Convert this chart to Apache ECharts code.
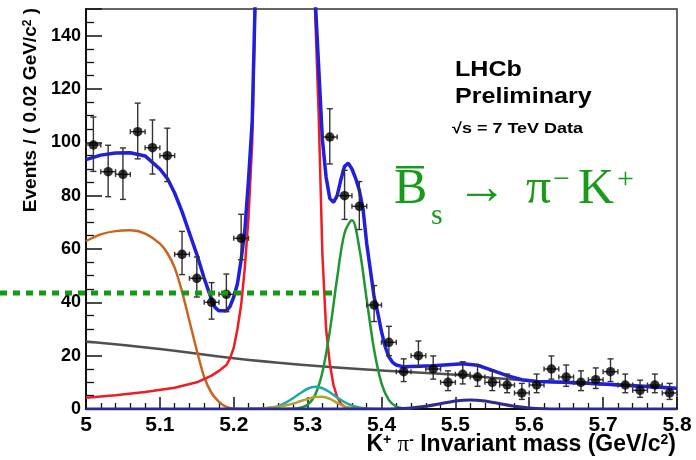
<!DOCTYPE html>
<html><head><meta charset="utf-8">
<script src="https://cdn.jsdelivr.net/npm/echarts@6/dist/echarts.min.js"></script>
<style>html,body{margin:0;padding:0;background:#fff}#c{width:696px;height:460px}</style>
</head><body><div id="c"></div>
<script>
// ---- data (bin centres, GeV/c^2) ----
const binMass = [5.01,5.03,5.05,5.07,5.09,5.11,5.13,5.15,5.17,5.19,5.21,5.23,5.25,5.27,5.29,5.31,5.33,5.35,5.37,5.39,5.41,5.43,5.45,5.47,5.49,5.51,5.53,5.55,5.57,5.59,5.61,5.63,5.65,5.67,5.69,5.71,5.73,5.75,5.77,5.79];
const binCounts = [99,89,88,104,98,95,58,49,40,43,64,null,null,null,null,null,102,80,76,39,25,14,20,15,10,13,12,10,9,6,9,15,12,10,11,14,9,7,9,6];
const errUp   = [10.5,9.9,9.9,10.7,10.4,10.3,8.6,8.0,7.4,7.6,9.0,null,null,null,null,null,10.6,9.5,9.3,7.3,6.0,4.8,5.5,4.9,4.3,4.7,4.5,4.3,4.1,3.6,4.1,4.9,4.5,4.3,4.4,4.8,4.1,3.8,4.1,3.6];
const errDown = [9.9,9.4,9.4,10.2,9.9,9.7,7.6,7.0,6.3,6.5,8.0,null,null,null,null,null,10.1,8.9,8.7,6.2,5.0,3.7,4.4,3.8,3.1,3.6,3.5,3.1,2.9,2.4,2.9,3.8,3.5,3.1,3.3,3.7,2.9,2.6,2.9,2.4];
const binHalfWidth = 0.01;

const totalMass = [5.00,5.02,5.04,5.06,5.08,5.10,5.11,5.12,5.13,5.14,5.15,5.16,5.17,5.175,5.18,5.19,5.195,5.20,5.205,5.21,5.215,5.22,5.225,5.23,5.24,5.26,5.28,5.30,5.31,5.315,5.32,5.325,5.33,5.335,5.34,5.345,5.35,5.355,5.36,5.365,5.37,5.375,5.38,5.385,5.39,5.395,5.40,5.405,5.41,5.415,5.42,5.43,5.45,5.47,5.49,5.51,5.53,5.55,5.57,5.59,5.61,5.65,5.70,5.75,5.80];
const totalFit  = [93.5,95.2,96.0,96.1,94.9,90.0,86.5,81,74,66,58,49,41,38,36.8,36.8,38.5,42,47,56,67,86,108,165,260,390,420,265,155,128,101,87,79,77.5,80,86,91,92.2,90,86.5,82,75,62,52,42,36,29,23.4,19.5,17.5,16.5,15.8,16.0,16.2,16.6,17.0,16.4,14.5,12.5,11.0,10.3,10.0,9.4,8.6,7.8];

const bdMass = [5.00,5.04,5.08,5.12,5.15,5.17,5.18,5.19,5.195,5.20,5.205,5.21,5.215,5.22,5.225,5.23,5.235,5.24,5.26,5.28,5.30,5.305,5.31,5.315,5.32,5.325,5.33,5.335,5.34,5.345,5.35,5.36,5.38];
const bdFit  = [4.2,5.2,6.4,8.0,10.0,12.5,14.3,16.5,19,23,30,39,53,72,100,165,210,250,380,400,245,195,150,110,58,30,17,9,4.5,2,0.8,0.2,0];

const bsMass = [5.26,5.28,5.29,5.30,5.31,5.32,5.33,5.34,5.35,5.36,5.37,5.38,5.39,5.40,5.41,5.42,5.43,5.44];
const bsFit  = [0,0.1,0.5,1.6,5.2,13.8,29.2,49.2,66,70.8,60.3,41,22.2,9.6,3.3,0.9,0.2,0];

const partMass = [5.00,5.02,5.04,5.06,5.08,5.10,5.11,5.12,5.13,5.14,5.15,5.16,5.17,5.18,5.19,5.20,5.21];
const partFit  = [63,65.5,66.7,67,65.8,62,58.5,53,44,33,22,12,6,2.7,0.8,0.1,0];

const combMass = [5.0,5.1,5.2,5.3,5.4,5.5,5.6,5.7,5.8];
const combFit  = [25.3,22.5,19.0,16.4,14.4,12.8,10.6,9.2,7.6];

const cyanMass = [5.22,5.24,5.25,5.26,5.27,5.28,5.29,5.30,5.31,5.32,5.33,5.34,5.35,5.36,5.37,5.38,5.40];
const cyanFit  = [0,0.17,0.5,1.1,2.3,4.0,5.9,7.6,8.3,7.8,6.3,4.3,2.6,1.3,0.6,0.2,0];

const oliveMass = [5.20,5.24,5.26,5.27,5.28,5.29,5.30,5.31,5.32,5.33,5.34,5.35,5.36,5.37,5.38];
const oliveFit  = [0,0.3,0.8,1.3,2.0,2.9,3.8,4.5,4.6,3.8,2.3,1.0,0.3,0.1,0];

const navyMass = [5.00,5.38,5.40,5.42,5.44,5.46,5.48,5.50,5.52,5.54,5.56,5.58,5.60,5.62,5.64,5.66,5.80];
const navyFit  = [0,0,0,0.1,0.4,1.0,2.0,3.0,3.4,3.0,2.0,1.0,0.4,0.1,0,0,0];

const refLineEnd = 5.34;
const refLineLevel = 43.5;

const xTicks = {min:5, max:5.8, step:0.1};
const yTicks = {min:0, max:150, step:20};

// ---- layout ----
const W = 696, gridLeft = 86, gridRight = 19, gridTop = 9, gridBottom = 51;
const plotW = W - gridLeft - gridRight;
// extended x-axis for the annotation line that starts at the page's left edge
const extMin = xTicks.min - gridLeft * (xTicks.max - xTicks.min) / plotW;

// ---- chart ----
const pair = (xs, ys) => xs.map((x, i) => [x, ys[i]]);
const curve = (name, xs, ys, color, width, smooth, z) => ({
  name, type:'line', data: pair(xs, ys), showSymbol:false, symbol:'none',
  smooth: smooth, lineStyle:{color, width}, z: z, animation:false, silent:true
});

const chart = echarts.init(document.getElementById('c'), null, {renderer:'canvas'});
const bold = 'Liberation Sans, Arial, sans-serif';

chart.setOption({
  animation:false,
  backgroundColor:'#fff',
  grid:[
    {left:gridLeft, right:gridRight, top:gridTop, bottom:gridBottom, show:true, borderColor:'#333', borderWidth:1.5, backgroundColor:'transparent'},
    {left:0, right:gridRight, top:gridTop, bottom:gridBottom, show:false}
  ],
  xAxis:[{
    type:'value', min:xTicks.min, max:xTicks.max, interval:xTicks.step,
    axisLine:{show:true, onZero:false, lineStyle:{color:'#111', width:2}},
    axisTick:{inside:true, length:12, lineStyle:{color:'#111', width:1.5}},
    minorTick:{show:true, splitNumber:5, length:6, lineStyle:{color:'#111', width:1.3}},
    splitLine:{show:false},
    axisLabel:{color:'#000', fontSize:21, fontWeight:'bold', fontFamily:bold, margin:6,
      formatter: v => String(parseFloat(v.toFixed(1))), showMaxLabel:true, showMinLabel:true}
  },{
    gridIndex:1, type:'value', min:extMin, max:xTicks.max, show:false
  }],
  yAxis:[{
    type:'value', min:yTicks.min, max:yTicks.max, interval:yTicks.step,
    axisLine:{show:true, lineStyle:{color:'#111', width:2}},
    axisTick:{inside:true, length:16, lineStyle:{color:'#111', width:1.5}},
    minorTick:{show:true, splitNumber:4, length:8, lineStyle:{color:'#111', width:1.3}},
    splitLine:{show:false},
    axisLabel:{color:'#000', fontSize:18, fontWeight:'bold', fontFamily:bold, margin:5, showMaxLabel:false}
  },{
    gridIndex:1, type:'value', min:yTicks.min, max:yTicks.max, show:false
  }],
  graphic:[
    {type:'text', x:31, y:8, rotation:Math.PI/2, z:10,
      style:{text:'Events / ( 0.02 GeV/c{s|2} )', align:'right', verticalAlign:'middle',
        font:'bold 19px '+bold, fill:'#000',
        rich:{s:{fontSize:12, fontWeight:'bold', fontFamily:bold, verticalAlign:'top', fill:'#000'}}}},
    {type:'text', x:676, y:445, z:10,
      style:{text:'K{s|+} {p|π}{s|-} Invariant mass (GeV/c{s|2})', align:'right', verticalAlign:'middle',
        font:'bold 23px '+bold, fill:'#000',
        rich:{s:{fontSize:14, fontWeight:'bold', fontFamily:bold, verticalAlign:'top', fill:'#000'},
              p:{fontSize:23, fontFamily:'Liberation Serif, serif', fontWeight:'normal', fill:'#000'}}}},
    {type:'text', x:455, y:70, scaleX:1.14, z:10, style:{text:'LHCb', font:'bold 22px '+bold, fill:'#000', verticalAlign:'middle'}},
    {type:'text', x:455, y:97, scaleX:1.14, z:10, style:{text:'Preliminary', font:'bold 22px '+bold, fill:'#000', verticalAlign:'middle'}},
    {type:'text', x:452, y:129, scaleX:1.2, z:10, style:{text:'\u221As = 7 TeV Data', font:'bold 15px '+bold, fill:'#000', verticalAlign:'middle'}},
    {type:'text', x:394, y:190, z:10, style:{text:'B', font:'50px Liberation Serif, serif', fill:'#1a9a1a', verticalAlign:'middle'}},
    {type:'rect', shape:{x:396, y:166, width:28, height:2.5}, style:{fill:'#1a9a1a'}, z:10},
    {type:'text', x:431, y:216, z:10, style:{text:'s', font:'30px Liberation Serif, serif', fill:'#1a9a1a', verticalAlign:'middle'}},
    {type:'text', x:457, y:190, z:10, style:{text:'\u2192', font:'50px Liberation Serif, serif', fill:'#1a9a1a', verticalAlign:'middle'}},
    {type:'text', x:526, y:190, z:10, style:{text:'\u03C0', font:'50px Liberation Serif, serif', fill:'#1a9a1a', verticalAlign:'middle'}},
    {type:'text', x:553, y:180, z:10, style:{text:'\u2212', font:'30px Liberation Serif, serif', fill:'#1a9a1a', verticalAlign:'middle'}},
    {type:'text', x:578, y:190, z:10, style:{text:'K', font:'50px Liberation Serif, serif', fill:'#1a9a1a', verticalAlign:'middle'}},
    {type:'text', x:617, y:180, z:10, style:{text:'+', font:'30px Liberation Serif, serif', fill:'#1a9a1a', verticalAlign:'middle'}}
  ],
  series:[
    curve('Combinatorial', combMass, combFit, '#505050', 2.5, true, 2),
    curve('Partially reconstructed', partMass, partFit, '#c9651f', 2.5, 0.3, 2),
    curve('B0 -> K+ pi-', bdMass, bdFit, '#ee1c24', 2.5, false, 3),
    curve('Bs -> pi- K+', bsMass, bsFit, '#1e9632', 2.5, 0.35, 3),
    curve('B -> pi pi', cyanMass, cyanFit, '#22a7a7', 2.5, 0.35, 3),
    curve('Bs -> K K', oliveMass, oliveFit, '#b4a02a', 2.5, 0.35, 3),
    curve('Lambda_b', navyMass, navyFit, '#2d2a92', 3, 0.3, 4),
    curve('Total fit', totalMass, totalFit, '#1f1fdc', 3.5, false, 5),
    {
      name:'Errors', type:'custom', z:6, animation:false, silent:true,
      data: binMass.map((m,i) => binCounts[i] == null ? null : [m, binCounts[i], errUp[i], errDown[i]]).filter(d => d),
      renderItem(params, api){
        const x = api.value(0), y = api.value(1), up = api.value(2), dn = api.value(3);
        const c = api.coord([x, y]);
        const t = api.coord([x, y + up]);
        const b = api.coord([x, y - dn]);
        const l = api.coord([x - binHalfWidth, y]);
        const r = api.coord([x + binHalfWidth, y]);
        const s = {stroke:'#333', lineWidth:1.4};
        return {type:'group', children:[
          {type:'line', shape:{x1:c[0], y1:t[1], x2:c[0], y2:b[1]}, style:s},
          {type:'line', shape:{x1:c[0]-3, y1:t[1], x2:c[0]+3, y2:t[1]}, style:s},
          {type:'line', shape:{x1:c[0]-3, y1:b[1], x2:c[0]+3, y2:b[1]}, style:s},
          {type:'line', shape:{x1:l[0], y1:c[1], x2:r[0], y2:c[1]}, style:s},
          {type:'line', shape:{x1:l[0], y1:c[1]-2.5, x2:l[0], y2:c[1]+2.5}, style:s},
          {type:'line', shape:{x1:r[0], y1:c[1]-2.5, x2:r[0], y2:c[1]+2.5}, style:s}
        ]};
      }
    },
    {
      name:'Data', type:'scatter', z:7, animation:false, silent:true,
      data: binMass.map((m,i) => [m, binCounts[i]]).filter(d => d[1] != null),
      symbol:'circle', symbolSize:9.5, itemStyle:{color:'#000'}
    },
    {
      name:'Reference level', type:'line', xAxisIndex:1, yAxisIndex:1, z:8, clip:false, animation:false, silent:true,
      data: [[extMin, refLineLevel], [refLineEnd, refLineLevel]], symbol:'none',
      lineStyle:{color:'#169a16', width:5, type:[7,6], cap:'butt'}
    }
  ]
});
</script></body></html>
